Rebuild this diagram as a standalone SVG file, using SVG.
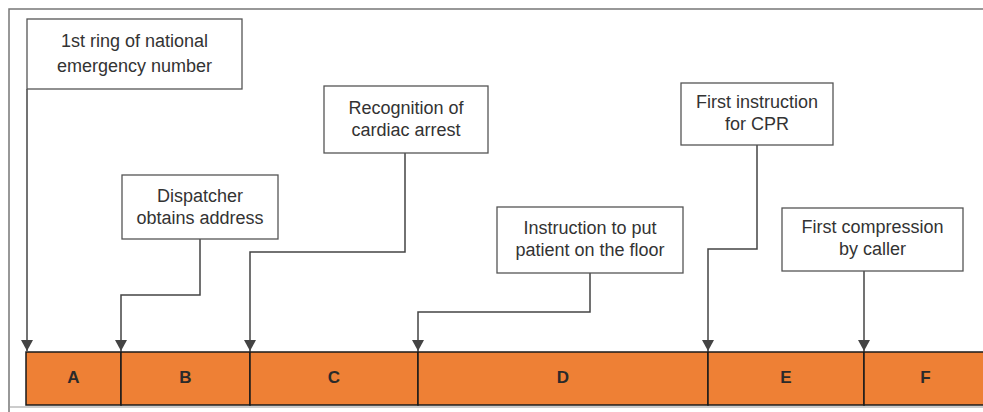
<svg xmlns="http://www.w3.org/2000/svg" width="983" height="412" viewBox="0 0 983 412">
<style>
.box{fill:#fff;stroke:#555;stroke-width:1.3}
.t{font-family:"Liberation Sans",Arial,sans-serif;font-size:18px;fill:#333;text-anchor:middle}
.seg{fill:#EE8035;stroke:#1a1a1a;stroke-width:1.5}
.lbl{font-family:"Liberation Sans",Arial,sans-serif;font-size:17px;font-weight:bold;fill:#2a2a2a;text-anchor:middle}
.c{fill:none;stroke:#444;stroke-width:1.5;marker-end:url(#ah)}
.frame{fill:none;stroke:#777;stroke-width:1.5}
</style>
<defs>
<marker id="ah" viewBox="0 0 11 12" refX="11" refY="6" markerWidth="11" markerHeight="12" markerUnits="userSpaceOnUse" orient="auto">
<path d="M0,0 L11,6 L0,12 Z" fill="#444"/>
</marker>
</defs>
<path class="frame" d="M9,412 V9 H983"/>
<g id="timeline">
<rect class="seg" x="26" y="352" width="95" height="53"/>
<rect class="seg" x="121" y="352" width="129" height="53"/>
<rect class="seg" x="250" y="352" width="168" height="53"/>
<rect class="seg" x="418" y="352" width="290" height="53"/>
<rect class="seg" x="708" y="352" width="156" height="53"/>
<rect class="seg" x="864" y="352" width="130" height="53"/>
<line x1="9" y1="407" x2="983" y2="407" stroke="#999" stroke-width="1"/>
<text class="lbl" x="73.5" y="383">A</text>
<text class="lbl" x="185.5" y="383">B</text>
<text class="lbl" x="334" y="383">C</text>
<text class="lbl" x="563" y="383">D</text>
<text class="lbl" x="786" y="383">E</text>
<text class="lbl" x="925.5" y="383">F</text>
</g>
<g id="connectors">
<path class="c" d="M27,89 V351"/>
<path class="c" d="M200,239 V295 H121 V351"/>
<path class="c" d="M405,153 V252 H250 V351"/>
<path class="c" d="M590,273 V312 H418 V351"/>
<path class="c" d="M757,145 V249 H708 V351"/>
<path class="c" d="M864,271 V351"/>
</g>
<g id="n1"><rect class="box" x="27" y="19" width="215" height="70"/><text class="t" x="134.5" y="47">1st ring of national</text><text class="t" x="134.5" y="72">emergency number</text></g>
<g id="n2"><rect class="box" x="122" y="175" width="156" height="64"/><text class="t" x="200" y="202">Dispatcher</text><text class="t" x="200" y="224">obtains address</text></g>
<g id="n3"><rect class="box" x="324" y="86" width="164" height="67"/><text class="t" x="406" y="114">Recognition of</text><text class="t" x="406" y="136">cardiac arrest</text></g>
<g id="n4"><rect class="box" x="497" y="207" width="186" height="66"/><text class="t" x="590" y="234">Instruction to put</text><text class="t" x="590" y="256">patient on the floor</text></g>
<g id="n5"><rect class="box" x="681" y="83" width="152" height="62"/><text class="t" x="757" y="108">First instruction</text><text class="t" x="757" y="130">for CPR</text></g>
<g id="n6"><rect class="box" x="782" y="208" width="181" height="63"/><text class="t" x="872.5" y="233">First compression</text><text class="t" x="872.5" y="255">by caller</text></g>
</svg>
